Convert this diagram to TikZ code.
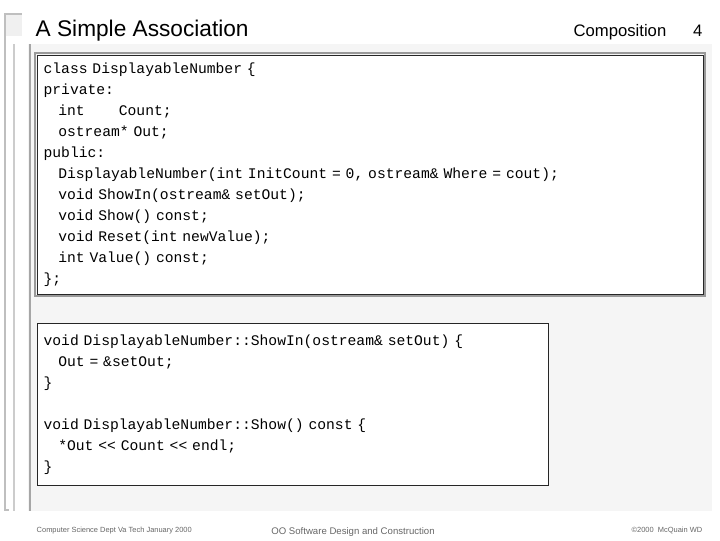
\documentclass[tikz,border=0pt]{standalone}
\usepackage{fontspec}
\setmainfont{Liberation Sans}
\newfontfamily\codefont{Liberation Mono}
\begin{document}
\begin{tikzpicture}[x=0.75pt, y=-0.75pt,
    codebox/.style={draw=black!85, fill=white, line width=0.9pt, anchor=north west,
      align=left, inner sep=0pt, font=\codefont\fontsize{11}{15.75}\selectfont},
    foot/.style={font=\fontsize{5.6}{6}\selectfont, text=black!60, anchor=base west}]
    \useasboundingbox (0,0) rectangle (720,540);
    % slide frame
    \fill[black!6] (4,14) rectangle (22,36);
    \draw[black!25, line width=1.2pt] (4,14) -- (22,14) (5,14) -- (5,510) -- (9,510);
    \fill[black!4] (28,44) rectangle (712,511);
    \draw[black!35, line width=1.5pt] (30,44) -- (30,511);
    \draw[black!20, line width=1pt] (14,44) -- (14,511);
    % title
    \node[font=\fontsize{17}{20}\selectfont, anchor=base west] (title) at (31,36) {A Simple Association};
    \node[font=\fontsize{12.5}{14}\selectfont, anchor=base east] (topic) at (671,36) {Composition};
    \node[font=\fontsize{12.5}{14}\selectfont, anchor=base east] (page) at (707,36) {4};
    % class declaration
    \draw[black!40, line width=1.2pt] (35,53) rectangle (705,296);
    \node[codebox, minimum width=666*0.75pt, minimum height=239*0.75pt,
      text width=654*0.75pt, inner xsep=6*0.75pt] (decl) at (37,55)
      {class DisplayableNumber \{\\
       private:\\
       ~~~int~~~~~~~Count;\\
       ~~~ostream*~Out;\\
       public:\\
       ~~~DisplayableNumber(int InitCount = 0, ostream\& Where = cout);\\
       ~~~void ShowIn(ostream\& setOut);\\
       ~~~void Show() const;\\
       ~~~void Reset(int newValue);\\
       ~~~int Value() const;\\
       \};};
    % member definitions
    \node[codebox, minimum width=511*0.75pt, minimum height=162*0.75pt,
      text width=499*0.75pt, inner xsep=6*0.75pt] (defs) at (37,323)
      {void DisplayableNumber::ShowIn(ostream\& setOut) \{\\
       ~~~Out = \&setOut;\\
       \}\\
       \mbox{}\\
       void DisplayableNumber::Show() const \{\\
       ~~~*Out << Count << endl;\\
       \}};
    % footer
    \node[foot] (dept) at (32,532) {Computer Science Dept Va Tech January 2000};
    \node[foot, font=\fontsize{7.2}{8}\selectfont, anchor=base] (course) at (353,534) {OO Software Design and Construction};
    \node[foot, anchor=base east] (copy) at (707,532) {©2000~~McQuain WD};
\end{tikzpicture}
\end{document}
